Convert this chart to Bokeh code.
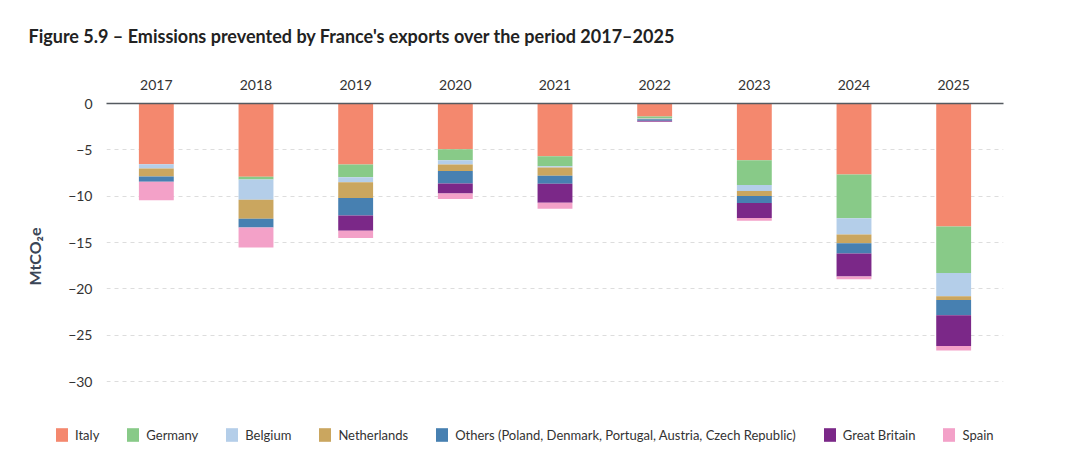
from bokeh.plotting import figure
from bokeh.models import ColumnDataSource, FixedTicker, Legend, Range1d, Label
from bokeh.layouts import column
from bokeh.embed import file_html
from bokeh.resources import INLINE

years = ["2017", "2018", "2019", "2020", "2021", "2022", "2023", "2024", "2025"]
series = ["Italy", "Germany", "Belgium", "Netherlands",
          "Others (Poland, Denmark, Portugal, Austria, Czech Republic)",
          "Great Britain", "Spain"]
italy =       [-6.55, -7.91, -6.58, -4.93, -5.68, -1.40, -6.12, -7.66, -13.27]
germany =     [0.0, -0.29, -1.37, -1.19, -1.08, -0.20, -2.66, -4.71, -5.00]
belgium =     [-0.45, -2.19, -0.54, -0.46, -0.14, -0.05, -0.65, -1.76, -2.52]
netherlands = [-0.86, -2.05, -1.69, -0.69, -0.90, -0.05, -0.54, -0.95, -0.40]
others =      [-0.58, -0.94, -1.91, -1.36, -0.86, -0.15, -0.76, -1.10, -1.65]
britain =     [0.0, 0.0, -1.62, -1.08, -2.05, -0.12, -1.62, -2.48, -3.31]
spain =       [-2.00, -2.16, -0.79, -0.58, -0.65, -0.03, -0.29, -0.29, -0.50]
y_ticks = [0, -5, -10, -15, -20, -25, -30]
title_text = "Figure 5.9 \u2013 Emissions prevented by France's exports over the period 2017\u20132025"

colors = ["#F4886E", "#88CA88", "#B4CEE9", "#CAA65F", "#4780B1", "#7B2888", "#F3A1C8"]
keys = ["italy", "germany", "belgium", "netherlands", "others", "britain", "spain"]

source = ColumnDataSource(dict(year=years, italy=italy, germany=germany, belgium=belgium,
                               netherlands=netherlands, others=others, britain=britain,
                               spain=spain))

FONT = "Lato"
TXT = "#333333"

# title strip
p0 = figure(width=1074, height=60, output_backend="svg", toolbar_location=None,
            x_axis_type=None, y_axis_type=None, x_range=Range1d(0, 1), y_range=Range1d(0, 1),
            min_border_left=0, min_border_right=0, min_border_top=0, min_border_bottom=0)
p0.outline_line_color = None
p0.grid.grid_line_color = None
p0.frame_align = False
p0.add_layout(Label(x=28, y=25, x_units="screen", y_units="screen", text=title_text,
                    text_font=FONT, text_font_size="18px", text_font_style="bold",
                    text_color="#222222", text_baseline="middle"))

# main chart
p = figure(x_range=years, y_range=(-33, 0), width=1074, height=355,
           output_backend="svg", toolbar_location=None, x_axis_location="above",
           min_border_left=106, min_border_right=71, min_border_top=43, min_border_bottom=6)
p.outline_line_color = None
p.frame_align = False

p.vbar_stack(keys, x="year", width=0.35, color=colors, line_color=None, source=source)

xa = p.xaxis[0]
xa.axis_line_color = "#555a60"
xa.axis_line_width = 1.5
xa.major_tick_line_color = None
xa.minor_tick_line_color = None
xa.major_label_text_font = FONT
xa.major_label_text_font_size = "14px"
xa.major_label_text_color = TXT
xa.major_label_standoff = 8

ya = p.yaxis[0]
ya.ticker = FixedTicker(ticks=y_ticks)
ya.axis_line_color = None
ya.major_tick_line_color = None
ya.minor_tick_line_color = None
ya.major_label_text_font = FONT
ya.major_label_text_font_size = "14px"
ya.major_label_text_color = TXT
ya.major_label_standoff = 8
ya.axis_label = "MtCO\u2082e"
ya.axis_label_text_font = FONT
ya.axis_label_text_font_size = "16px"
ya.axis_label_text_font_style = "bold"
ya.axis_label_text_color = "#3a4556"
ya.axis_label_standoff = 21

p.xgrid.grid_line_color = None
p.ygrid.grid_line_color = "#dddddd"
p.ygrid.grid_line_dash = "4 4"
p.ygrid.grid_line_width = 1

# legend strip: zero-height stacks only provide the swatches
p2 = figure(width=1074, height=36, output_backend="svg", toolbar_location=None,
            x_axis_type=None, y_axis_type=None, x_range=Range1d(0, 1), y_range=Range1d(1, 2),
            min_border_left=0, min_border_right=0, min_border_top=0, min_border_bottom=0)
p2.outline_line_color = None
p2.grid.grid_line_color = None
p2.frame_align = False
dummy = ColumnDataSource(dict(x=[0.5], **{k: [0.0] for k in keys}))
swatches = p2.vbar_stack(keys, x="x", width=0.01, color=colors, line_color=None, source=dummy)

legend = Legend(items=[(name, [r]) for name, r in zip(series, swatches)],
                orientation="horizontal", location=(54, 8),
                glyph_width=15, glyph_height=17, label_height=17, label_standoff=6, spacing=26,
                padding=0, margin=0, border_line_color=None, background_fill_alpha=0,
                label_text_font=FONT, label_text_font_size="13px", label_text_color=TXT)
p2.add_layout(legend, "center")

layout = column(p0, p, p2, spacing=0)
open("out.html", "w").write(file_html(layout, INLINE))
